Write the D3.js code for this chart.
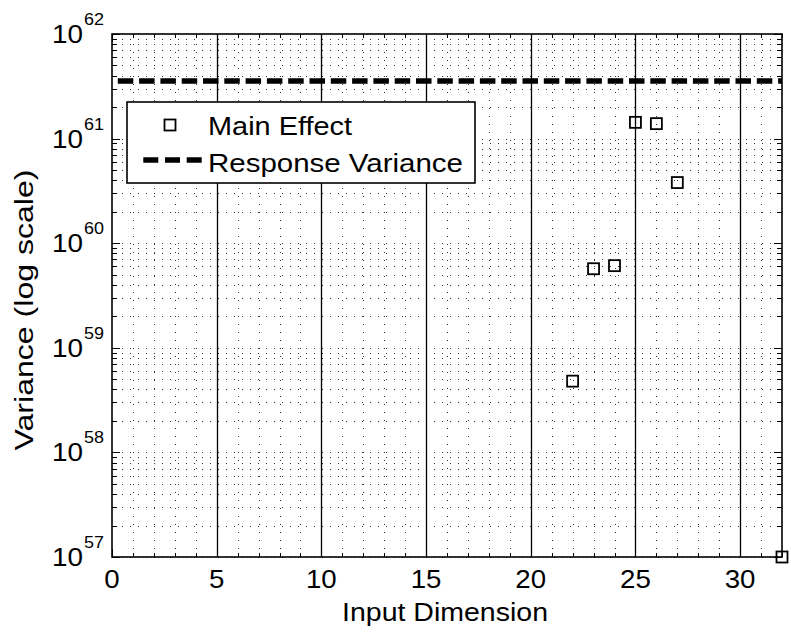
<!DOCTYPE html>
<html>
<head>
<meta charset="utf-8">
<script src="https://cdn.jsdelivr.net/npm/d3@7"></script>
<style>
  body{margin:0;background:#fff;}
  text{font-family:"Liberation Sans",Arial,Helvetica,sans-serif;fill:#000;}
</style>
</head>
<body>
<svg id="chart" width="791" height="635"></svg>
<script>
// data
const dims = [22, 23, 24, 25, 26, 27, 32];
const mainEffect = [4.8e58, 5.7e59, 6.1e59, 1.43e61, 1.39e61, 3.8e60, 1e57];
const responseVariance = 3.55e61;
const xTicks = [0, 5, 10, 15, 20, 25, 30];
const yExponents = [57, 58, 59, 60, 61, 62];

const svg = d3.select("#chart");
svg.append("rect").attr("width", 791).attr("height", 635).attr("fill", "#fff");

const plotL = 112, plotR = 782, plotT = 34, plotB = 557;
const x = d3.scaleLinear().domain([0, 32]).range([plotL, plotR]);
const y = d3.scaleLog().domain([1e57, 1e62]).range([plotB, plotT]);
const crisp = v => Math.round(v) + 0.5;

const grid = svg.append("g");

// dotted minor + major grid (log rows, integer columns)
let rows = [];
for (let k = 57; k < 62; k++) { for (let m = 1; m <= 9; m++) rows.push(m * Math.pow(10, k)); }
grid.selectAll("line.hg").data(rows).join("line").attr("class", "hg")
  .attr("x1", plotL + 2).attr("x2", plotR)
  .attr("y1", d => crisp(y(d))).attr("y2", d => crisp(y(d)))
  .attr("stroke", "#333").attr("stroke-width", 1).attr("stroke-dasharray", "1,7");

grid.selectAll("line.vg").data(d3.range(1, 32)).join("line").attr("class", "vg")
  .attr("y1", plotT + 2).attr("y2", plotB)
  .attr("x1", d => crisp(x(d))).attr("x2", d => crisp(x(d)))
  .attr("stroke", "#333").attr("stroke-width", 1).attr("stroke-dasharray", "1,7");

// solid major verticals
grid.selectAll("line.vm").data(xTicks.filter(d => d > 0)).join("line").attr("class", "vm")
  .attr("y1", plotT).attr("y2", plotB)
  .attr("x1", d => crisp(x(d))).attr("x2", d => crisp(x(d)))
  .attr("stroke", "#000").attr("stroke-width", 1.3);

// tick marks, inside on all four sides
const ticks = svg.append("g").attr("stroke", "#000").attr("stroke-width", 1);
rows.concat([1e62]).forEach(v => {
  const major = Math.abs(Math.log10(v) - Math.round(Math.log10(v))) < 1e-9;
  const len = major ? 8 : 5, yy = crisp(y(v));
  ticks.append("line").attr("x1", plotL).attr("x2", plotL + len).attr("y1", yy).attr("y2", yy);
  ticks.append("line").attr("x1", plotR).attr("x2", plotR - len).attr("y1", yy).attr("y2", yy);
});
d3.range(0, 33).forEach(v => {
  const len = v % 5 == 0 ? 8 : 4, xx = crisp(x(v));
  ticks.append("line").attr("x1", xx).attr("x2", xx).attr("y1", plotB).attr("y2", plotB - len);
  ticks.append("line").attr("x1", xx).attr("x2", xx).attr("y1", plotT).attr("y2", plotT + len);
});

// response variance line
svg.append("line")
  .attr("x1", x(0)).attr("x2", x(32))
  .attr("y1", y(responseVariance)).attr("y2", y(responseVariance))
  .attr("stroke", "#000").attr("stroke-width", 5.5)
  .attr("stroke-dasharray", "15.5,5.8").attr("stroke-dashoffset", 15.5);

// axes box
svg.append("rect").attr("x", plotL).attr("y", plotT)
  .attr("width", plotR - plotL).attr("height", plotB - plotT)
  .attr("fill", "none").attr("stroke", "#000").attr("stroke-width", 1.6);

// main effect markers
svg.selectAll("rect.pt").data(dims.map((d, i) => [d, mainEffect[i]])).join("rect").attr("class", "pt")
  .attr("x", d => x(d[0]) - 5.5).attr("y", d => y(d[1]) - 5.5)
  .attr("width", 11).attr("height", 11)
  .attr("fill", "none").attr("stroke", "#000").attr("stroke-width", 1.8);

// x tick labels
svg.selectAll("text.xt").data(xTicks).join("text").attr("class", "xt")
  .attr("x", d => x(d)).attr("y", 588)
  .attr("text-anchor", "middle").attr("font-size", 26)
  .attr("textLength", d => String(d).length * 15.4).attr("lengthAdjust", "spacingAndGlyphs")
  .text(d => d);

// y tick labels 10^k
const yl = svg.selectAll("g.yt").data(yExponents).join("g").attr("class", "yt");
yl.append("text")
  .attr("x", 83).attr("y", d => y(Math.pow(10, d)) + 9)
  .attr("text-anchor", "end").attr("font-size", 26)
  .attr("textLength", 31).attr("lengthAdjust", "spacingAndGlyphs")
  .text("10");
yl.append("text")
  .attr("x", 84).attr("y", d => y(Math.pow(10, d)) - 9)
  .attr("font-size", 17)
  .attr("textLength", 20).attr("lengthAdjust", "spacingAndGlyphs")
  .text(d => d);

// axis titles
svg.append("text")
  .attr("x", 445).attr("y", 621)
  .attr("text-anchor", "middle").attr("font-size", 26)
  .attr("textLength", 206).attr("lengthAdjust", "spacingAndGlyphs")
  .text("Input Dimension");

svg.append("text")
  .attr("transform", "translate(33,310) rotate(-90)")
  .attr("text-anchor", "middle").attr("font-size", 26)
  .attr("textLength", 281).attr("lengthAdjust", "spacingAndGlyphs")
  .text("Variance (log scale)");

// legend
const lg = svg.append("g");
lg.append("rect").attr("x", 127).attr("y", 102).attr("width", 348).attr("height", 81)
  .attr("fill", "#fff").attr("stroke", "#000").attr("stroke-width", 1.6);
lg.append("rect").attr("x", 164.5).attr("y", 119.5).attr("width", 11).attr("height", 11)
  .attr("fill", "none").attr("stroke", "#000").attr("stroke-width", 1.8);
lg.append("line").attr("x1", 143.3).attr("x2", 201.7).attr("y1", 160).attr("y2", 160)
  .attr("stroke", "#000").attr("stroke-width", 5.5).attr("stroke-dasharray", "15,6.7");
lg.append("text").attr("x", 208).attr("y", 135).attr("font-size", 26)
  .attr("textLength", 144).attr("lengthAdjust", "spacingAndGlyphs").text("Main Effect");
lg.append("text").attr("x", 208).attr("y", 171.5).attr("font-size", 26)
  .attr("textLength", 255).attr("lengthAdjust", "spacingAndGlyphs").text("Response Variance");
</script>
</body>
</html>
